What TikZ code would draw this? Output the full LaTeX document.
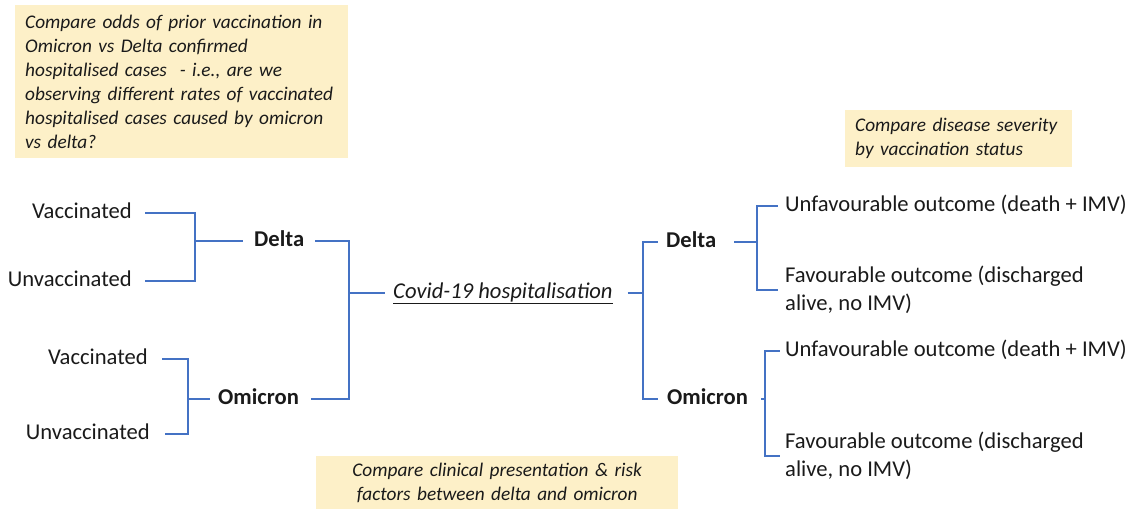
\documentclass[tikz,border=0pt]{standalone}
\usepackage{fontspec}
\setmainfont{Carlito}
\usetikzlibrary{calc}
\definecolor{wirecol}{HTML}{4472C4}
\definecolor{boxfill}{HTML}{FDF0C8}
\definecolor{txt}{HTML}{1A1A1A}
\begin{document}
\begin{tikzpicture}[x=1pt,y=-1pt,
  lbl/.style={inner sep=0pt, text height=15pt, text depth=4pt, text=txt, font=\fontsize{22.6}{27}\selectfont},
  grp/.style={lbl, font=\fontsize{22.6}{27}\selectfont\bfseries},
  two/.style={inner sep=0pt, text=txt, align=left, font=\fontsize{22.6}{28}\selectfont},
  note/.style={fill=boxfill, inner xsep=10pt, inner ysep=0pt, text=txt, font=\fontsize{19.3}{24}\selectfont\itshape},
  wire/.style={draw=wirecol, line width=1.3pt}]
\useasboundingbox (0,0) rectangle (1142,509);

% notes
\node[note, anchor=north west, minimum width=333pt, minimum height=153pt, text width=313pt, align=left] (n1) at (15,5)
  {Compare odds of prior vaccination in\\Omicron vs Delta confirmed\\hospitalised cases \ - i.e., are we\\observing different rates of vaccinated\\hospitalised cases caused by omicron\\vs delta?};
\node[note, anchor=north west, minimum width=227pt, minimum height=57pt, text width=207pt, align=left] (n2) at (845,110)
  {Compare disease severity\\by vaccination status};
\node[note, anchor=north west, minimum width=362pt, minimum height=53pt, text width=342pt, align=center] (n3) at (316,456)
  {Compare clinical presentation \& risk\\factors between delta and omicron};

% left tree
\node[lbl, anchor=east] (v1) at (132,213) {Vaccinated};
\node[lbl, anchor=east] (u1) at (132,281) {Unvaccinated};
\node[grp, anchor=west] (dl) at (254,241) {Delta};
\node[lbl, anchor=east] (v2) at (148,359) {Vaccinated};
\node[lbl, anchor=east] (u2) at (150,434) {Unvaccinated};
\node[grp, anchor=west] (ol) at (218,399) {Omicron};

% centre
\node[lbl, anchor=west] (cv) at (393,293) {\underline{\textit{Covid-19 hospitalisation}}};

% right tree
\node[grp, anchor=west] (dr) at (666,242) {Delta};
\node[grp, anchor=west] (orr) at (667,399) {Omicron};
\node[lbl, anchor=west] (un1) at (785,206) {Unfavourable outcome (death + IMV)};
\node[two, anchor=west] (fa1) at (785,290) {Favourable outcome (discharged\\alive, no IMV)};
\node[lbl, anchor=west] (un2) at (785,351) {Unfavourable outcome (death + IMV)};
\node[two, anchor=west] (fa2) at (785,456) {Favourable outcome (discharged\\alive, no IMV)};

% bracket x positions
\coordinate (jA) at (195,0);
\coordinate (jB) at (188,0);
\coordinate (jC) at (349,0);
\coordinate (jD) at (643,0);
\coordinate (jE) at (757,0);
\coordinate (jF) at (765,0);

% connectors
\draw[wire] ([xshift=13pt]v1.east) -| (jA |- dl) -- ([xshift=-11pt]dl.west);
\draw[wire] ([xshift=13pt]u1.east) -| (jA |- dl) -- ([xshift=-11pt]dl.west);
\draw[wire] ([xshift=14pt]v2.east) -| (jB |- ol) -- ([xshift=-8pt]ol.west);
\draw[wire] ([xshift=15pt]u2.east) -| (jB |- ol) -- ([xshift=-8pt]ol.west);
\draw[wire] ([xshift=11pt]dl.east) -| (jC |- cv) -- ([xshift=-8pt]cv.west);
\draw[wire] ([xshift=12pt]ol.east) -| (jC |- cv) -- ([xshift=-8pt]cv.west);
\draw[wire] ([xshift=15pt]cv.east) -| (jD |- dr) -- ([xshift=-8pt]dr.west);
\draw[wire] ([xshift=15pt]cv.east) -| (jD |- orr) -- ([xshift=-9pt]orr.west);
\draw[wire] ([xshift=18pt]dr.east) -| (jE |- un1) -- ([xshift=-7pt]un1.west);
\draw[wire] ([xshift=18pt]dr.east) -| (jE |- fa1) -- ([xshift=-7pt]fa1.west);
\draw[wire] ([xshift=13pt]orr.east) -| (jF |- un2) -- ([xshift=-5pt]un2.west);
\draw[wire] ([xshift=13pt]orr.east) -| (jF |- fa2) -- ([xshift=-5pt]fa2.west);
\end{tikzpicture}
\end{document}
